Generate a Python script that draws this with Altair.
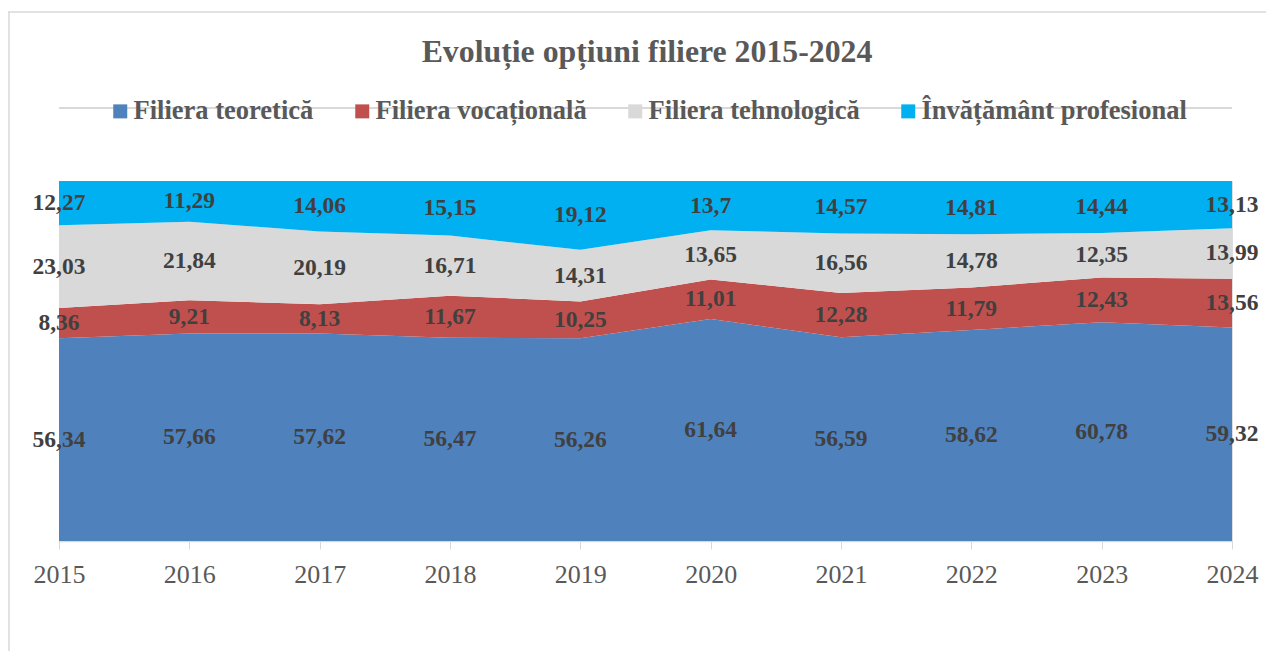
import altair as alt
import pandas as pd

years = [2015, 2016, 2017, 2018, 2019, 2020, 2021, 2022, 2023, 2024]
series_names = ["Filiera teoretică", "Filiera vocațională", "Filiera tehnologică", "Învățământ profesional"]
teoretica = [56.34, 57.66, 57.62, 56.47, 56.26, 61.64, 56.59, 58.62, 60.78, 59.32]
vocationala = [8.36, 9.21, 8.13, 11.67, 10.25, 11.01, 12.28, 11.79, 12.43, 13.56]
tehnologica = [23.03, 21.84, 20.19, 16.71, 14.31, 13.65, 16.56, 14.78, 12.35, 13.99]
profesional = [12.27, 11.29, 14.06, 15.15, 19.12, 13.7, 14.57, 14.81, 14.44, 13.13]
colors = ["#4F81BD", "#C0504D", "#D9D9D9", "#00B0F0"]
title_text = "Evoluție opțiuni filiere 2015-2024"

rows = []
for order, (name, vals) in enumerate(zip(series_names, [teoretica, vocationala, tehnologica, profesional])):
    for y, v in zip(years, vals):
        rows.append({"year": y, "series": name, "order": order, "value": v,
                     "label": str(v).replace(".", ",")})
df = pd.DataFrame(rows)

FONT = "Liberation Serif"
W, H = 1173, 360

base = alt.Chart(df).transform_stack(
    stack="value", groupby=["year"], as_=["y0", "y1"],
    sort=[alt.SortField("order", order="ascending")], offset="normalize"
).transform_calculate(mid="(datum.y0 + datum.y1) / 2")

xenc = alt.X("year:Q", scale=alt.Scale(domain=[2015, 2024], nice=False, zero=False),
             axis=alt.Axis(values=years, format="d", title=None, grid=False, tickSize=8,
                           tickColor="#D9D9D9", domainColor="#D9D9D9", domainWidth=1.5,
                           labelFont=FONT, labelFontSize=26, labelColor="#595959",
                           labelPadding=12, labelFlush=False, labelOverlap=False))

area = base.mark_area(opacity=1).encode(
    x=xenc,
    y=alt.Y("y0:Q", scale=alt.Scale(domain=[0, 1], nice=False), axis=None),
    y2="y1:Q",
    color=alt.Color("series:N", scale=alt.Scale(domain=series_names, range=colors),
                    legend=alt.Legend(orient="none", legendX=48, legendY=-83, direction="horizontal",
                                      title=None, symbolType="square", symbolSize=196,
                                      symbolStrokeWidth=0, symbolOpacity=1,
                                      labelFont=FONT, labelFontSize=26.5, labelFontWeight="bold",
                                      labelColor="#595959", labelOffset=0, columnPadding=35,
                                      padding=0, labelLimit=500)),
    order=alt.Order("order:Q"),
)

labels = base.mark_text(font=FONT, fontSize=23.5, fontWeight="bold", color="#404040",
                        align="center", baseline="middle").encode(
    x="year:Q",
    y="mid:Q",
    text="label:N",
)

one = alt.Data(values=[{}])
title_mark = alt.Chart(alt.Data(values=[{"t": title_text}])).mark_text(
    font=FONT, fontSize=31.8, fontWeight="bold", color="#595959",
    align="center", baseline="alphabetic").encode(
    x=alt.value(W / 2 + 1.5), y=alt.value(-119), text="t:N")
legend_line = alt.Chart(one).mark_rule(color="#D9D9D9", strokeWidth=2).encode(
    x=alt.value(0), x2=alt.value(W), y=alt.value(-73))
frame_top = alt.Chart(one).mark_rule(color="#D9D9D9", strokeWidth=1.5).encode(
    x=alt.value(-51), x2=alt.value(1300), y=alt.value(-169))
frame_left = alt.Chart(one).mark_rule(color="#D9D9D9", strokeWidth=1.5).encode(
    x=alt.value(-50), y=alt.value(-169), y2=alt.value(600))

chart = alt.layer(frame_top, frame_left, legend_line, title_mark, area, labels).properties(
    width=W, height=H,
    autosize=alt.AutoSizeParams(type="none"),
    padding={"left": 51, "top": 173, "right": 34, "bottom": 110},
).configure_view(stroke=None).configure(background="white")

chart.save("out.html", embed_options={"renderer": "svg", "actions": False})
